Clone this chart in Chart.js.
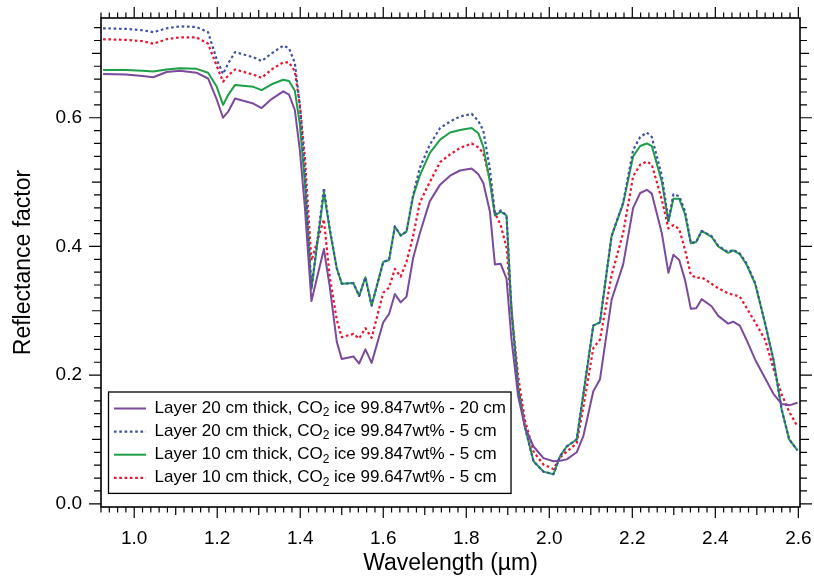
<!DOCTYPE html>
<html>
<head>
<meta charset="utf-8">
<script src="https://cdn.jsdelivr.net/npm/chart.js@4.4.0/dist/chart.umd.min.js"></script>
<style>
  html, body { margin: 0; padding: 0; background: #fff; }
  #wrap { width: 814px; height: 578px; }
</style>
</head>
<body>
<div id="wrap"><canvas id="chart"></canvas></div>
<script>
// wavelength grid (µm), shared by all four spectra
const wavelength = [
  0.925, 0.98, 1.02, 1.046, 1.078, 1.11, 1.15, 1.178, 1.199, 1.214,
  1.227, 1.243, 1.287, 1.307, 1.331, 1.359, 1.373, 1.387, 1.399, 1.411,
  1.427, 1.457, 1.471, 1.488, 1.500, 1.528, 1.542, 1.557, 1.572, 1.600,
  1.614, 1.628, 1.642, 1.656, 1.672, 1.688, 1.712, 1.737, 1.761, 1.785,
  1.813, 1.829, 1.841, 1.857, 1.869, 1.883, 1.897, 1.909, 1.925, 1.941,
  1.962, 1.986, 2.010, 2.026, 2.042, 2.066, 2.082, 2.106, 2.122, 2.150,
  2.178, 2.202, 2.219, 2.235, 2.247, 2.271, 2.287, 2.299, 2.313, 2.327,
  2.341, 2.354, 2.367, 2.391, 2.407, 2.431, 2.443, 2.459, 2.475, 2.496,
  2.520, 2.540, 2.560, 2.578, 2.598
];

const layer20_847_20cm = [
  0.668, 0.667, 0.665, 0.663, 0.671, 0.673, 0.670, 0.661, 0.628, 0.600,
  0.610, 0.630, 0.622, 0.615, 0.629, 0.641, 0.636, 0.612, 0.550, 0.462,
  0.315, 0.396, 0.338, 0.252, 0.225, 0.229, 0.218, 0.240, 0.219, 0.282,
  0.295, 0.326, 0.313, 0.322, 0.382, 0.420, 0.470, 0.496, 0.510, 0.518,
  0.521, 0.512, 0.499, 0.454, 0.372, 0.373, 0.350, 0.255, 0.167, 0.120,
  0.089, 0.071, 0.066, 0.067, 0.069, 0.080, 0.105, 0.175, 0.193, 0.317,
  0.372, 0.460, 0.483, 0.488, 0.482, 0.421, 0.359, 0.387, 0.379, 0.348,
  0.303, 0.304, 0.318, 0.307, 0.292, 0.280, 0.283, 0.277, 0.255, 0.224,
  0.195, 0.171, 0.155, 0.153, 0.157
];

const layer20_847_5cm = [
  0.739, 0.738, 0.736, 0.733, 0.739, 0.742, 0.741, 0.733, 0.690, 0.668,
  0.685, 0.702, 0.694, 0.688, 0.700, 0.712, 0.708, 0.685, 0.620, 0.520,
  0.334, 0.491, 0.428, 0.366, 0.342, 0.343, 0.323, 0.352, 0.308, 0.376,
  0.379, 0.431, 0.417, 0.423, 0.480, 0.522, 0.558, 0.584, 0.594, 0.602,
  0.606, 0.595, 0.580, 0.520, 0.449, 0.456, 0.448, 0.300, 0.180, 0.120,
  0.066, 0.050, 0.046, 0.074, 0.089, 0.100, 0.170, 0.277, 0.282, 0.416,
  0.468, 0.550, 0.570, 0.577, 0.570, 0.510, 0.440, 0.481, 0.478, 0.455,
  0.405, 0.407, 0.424, 0.416, 0.401, 0.391, 0.395, 0.389, 0.374, 0.343,
  0.280, 0.224, 0.146, 0.100, 0.083
];

const layer10_847_5cm = [
  0.674, 0.674, 0.673, 0.672, 0.675, 0.677, 0.676, 0.670, 0.648, 0.620,
  0.636, 0.651, 0.648, 0.643, 0.652, 0.659, 0.657, 0.642, 0.590, 0.500,
  0.334, 0.484, 0.426, 0.366, 0.342, 0.343, 0.323, 0.352, 0.308, 0.376,
  0.379, 0.431, 0.417, 0.423, 0.478, 0.510, 0.545, 0.566, 0.577, 0.581,
  0.584, 0.576, 0.555, 0.500, 0.448, 0.454, 0.448, 0.300, 0.180, 0.120,
  0.066, 0.050, 0.046, 0.074, 0.089, 0.100, 0.170, 0.277, 0.282, 0.416,
  0.467, 0.540, 0.556, 0.560, 0.556, 0.501, 0.439, 0.474, 0.474, 0.450,
  0.405, 0.407, 0.424, 0.415, 0.400, 0.390, 0.394, 0.388, 0.372, 0.342,
  0.280, 0.224, 0.146, 0.100, 0.083
];

const layer10_647_5cm = [
  0.722, 0.721, 0.719, 0.715, 0.722, 0.725, 0.725, 0.715, 0.680, 0.656,
  0.666, 0.675, 0.667, 0.662, 0.675, 0.686, 0.686, 0.672, 0.620, 0.540,
  0.378, 0.442, 0.353, 0.286, 0.259, 0.264, 0.257, 0.273, 0.258, 0.328,
  0.336, 0.365, 0.353, 0.376, 0.416, 0.468, 0.500, 0.531, 0.543, 0.553,
  0.560, 0.554, 0.545, 0.504, 0.452, 0.433, 0.398, 0.302, 0.198, 0.131,
  0.081, 0.061, 0.054, 0.072, 0.081, 0.094, 0.150, 0.242, 0.255, 0.355,
  0.421, 0.509, 0.527, 0.532, 0.527, 0.473, 0.428, 0.433, 0.427, 0.395,
  0.356, 0.351, 0.352, 0.342, 0.335, 0.327, 0.325, 0.322, 0.305, 0.282,
  0.255, 0.210, 0.170, 0.143, 0.120
];

const seriesLabels = [
  'Layer 20 cm thick, CO₂ ice 99.847wt% - 20 cm',
  'Layer 20 cm thick, CO₂ ice 99.847wt% - 5 cm',
  'Layer 10 cm thick, CO₂ ice 99.847wt% - 5 cm',
  'Layer 10 cm thick, CO₂ ice 99.647wt% - 5 cm'
];

const xTickLabels = [1.0, 1.2, 1.4, 1.6, 1.8, 2.0, 2.2, 2.4, 2.6];
const yTickLabels = [0.0, 0.2, 0.4, 0.6];

const FONT = '"Liberation Sans", Arial, Helvetica, sans-serif';
Chart.defaults.font.family = FONT;
Chart.defaults.color = '#000';

function toPoints(values) {
  return wavelength.map((w, i) => ({ x: w, y: values[i] }));
}

// draws a label, rendering "₂" as a real subscript 2
function drawRichText(ctx, text, x, y, size, doDraw) {
  const parts = text.split('₂');
  let cx = x;
  parts.forEach((p, i) => {
    ctx.font = size + 'px ' + FONT;
    if (doDraw) ctx.fillText(p, cx, y);
    cx += ctx.measureText(p).width;
    if (i < parts.length - 1) {
      ctx.font = Math.round(size * 0.68) + 'px ' + FONT;
      if (doDraw) ctx.fillText('2', cx, y + 4.5);
      cx += ctx.measureText('2').width;
    }
  });
  return cx - x;
}

// frame around the plot plus outward ticks on all four sides
const frameTicks = {
  id: 'frameTicks',
  afterDraw(chart) {
    const { ctx, chartArea: a, scales: { x, y } } = chart;
    ctx.save();
    ctx.strokeStyle = '#000';
    ctx.lineWidth = 1.2;
    ctx.beginPath();
    for (let i = 46; i <= 130; i++) {
      const px = x.getPixelForValue(i * 0.02);
      if (px < a.left - 0.5 || px > a.right + 0.5) continue;
      const len = i % 10 === 0 ? 11 : (i % 5 === 0 ? 8 : 5.5);
      ctx.moveTo(px, a.bottom); ctx.lineTo(px, a.bottom + len);
      ctx.moveTo(px, a.top); ctx.lineTo(px, a.top - len);
    }
    for (let i = 0; i <= 37; i++) {
      const py = y.getPixelForValue(i * 0.02);
      if (py < a.top - 0.5 || py > a.bottom + 0.5) continue;
      const len = i % 10 === 0 ? 12 : (i % 5 === 0 ? 9 : 7);
      ctx.moveTo(a.left, py); ctx.lineTo(a.left - len, py);
      ctx.moveTo(a.right, py); ctx.lineTo(a.right + len, py);
    }
    ctx.stroke();
    ctx.lineWidth = 1.6;
    ctx.strokeRect(a.left, a.top, a.right - a.left, a.bottom - a.top);
    ctx.restore();
  }
};

// boxed legend inside the plot, lower left
const boxLegend = {
  id: 'boxLegend',
  afterDraw(chart) {
    const ctx = chart.ctx;
    const left = 108.5, top = 392, rowH = 23.1, size = 17;
    const sampleX0 = 114, sampleX1 = 146, textX = 154.5;
    let maxW = 0;
    chart.data.datasets.forEach(ds => {
      maxW = Math.max(maxW, drawRichText(ctx, ds.label, 0, 0, size, false));
    });
    const right = textX + maxW + 5;
    const bottom = top + rowH * chart.data.datasets.length + 9;
    ctx.save();
    ctx.fillStyle = '#fff';
    ctx.fillRect(left, top, right - left, bottom - top);
    ctx.strokeStyle = '#000';
    ctx.lineWidth = 1.3;
    ctx.strokeRect(left, top, right - left, bottom - top);
    chart.data.datasets.forEach((ds, i) => {
      const cy = top + 16.5 + i * rowH;
      ctx.beginPath();
      ctx.strokeStyle = ds.borderColor;
      ctx.lineWidth = ds.borderWidth;
      ctx.setLineDash(ds.borderDash || []);
      ctx.moveTo(sampleX0, cy);
      ctx.lineTo(sampleX1, cy);
      ctx.stroke();
      ctx.setLineDash([]);
      ctx.fillStyle = '#000';
      ctx.textBaseline = 'middle';
      ctx.textAlign = 'left';
      drawRichText(ctx, ds.label, textX, cy, size, true);
    });
    ctx.restore();
  }
};

const datasets = [
  { label: seriesLabels[0], data: toPoints(layer20_847_20cm), borderColor: '#7b4a9c', borderWidth: 2 },
  { label: seriesLabels[1], data: toPoints(layer20_847_5cm), borderColor: '#3e52a3', borderWidth: 2.2, borderDash: [2.6, 2.7] },
  { label: seriesLabels[2], data: toPoints(layer10_847_5cm), borderColor: '#1d9f48', borderWidth: 2 },
  { label: seriesLabels[3], data: toPoints(layer10_647_5cm), borderColor: '#e9142f', borderWidth: 2.2, borderDash: [2.6, 2.7] }
];

new Chart(document.getElementById('chart'), {
  type: 'line',
  data: { datasets: datasets },
  options: {
    responsive: true,
    maintainAspectRatio: false,
    animation: false,
    elements: { point: { radius: 0 }, line: { tension: 0, borderCapStyle: 'butt', borderJoinStyle: 'round' } },
    layout: { padding: { top: 18, right: 14, left: 0, bottom: 0 } },
    plugins: { legend: { display: false }, tooltip: { enabled: false } },
    scales: {
      x: {
        type: 'linear',
        min: 0.92,
        max: 2.604,
        grid: { display: false, drawTicks: false },
        border: { display: false },
        afterBuildTicks: axis => { axis.ticks = xTickLabels.map(v => ({ value: v })); },
        afterFit: axis => {
          axis.height = 71;
          axis.paddingLeft = 0; axis.paddingRight = 0;
          axis.paddingTop = 0; axis.paddingBottom = 0;
        },
        ticks: { padding: 20, font: { size: 19 }, color: '#000', maxRotation: 0, callback: v => v.toFixed(1) },
        title: { display: true, text: 'Wavelength (µm)', font: { size: 23 }, color: '#000', padding: { top: 0, bottom: 1 } }
      },
      y: {
        min: -0.005,
        max: 0.755,
        grid: { display: false, drawTicks: false },
        border: { display: false },
        afterBuildTicks: axis => { axis.ticks = yTickLabels.map(v => ({ value: v })); },
        afterFit: axis => {
          axis.width = 101;
          axis.paddingLeft = 0; axis.paddingRight = 0;
          axis.paddingTop = 0; axis.paddingBottom = 0;
        },
        ticks: { padding: 19, font: { size: 19 }, color: '#000', callback: v => v.toFixed(1) },
        title: { display: true, text: 'Reflectance factor', font: { size: 23 }, color: '#000', padding: { top: 10, bottom: 0 } }
      }
    }
  },
  plugins: [frameTicks, boxLegend]
});
</script>
</body>
</html>
